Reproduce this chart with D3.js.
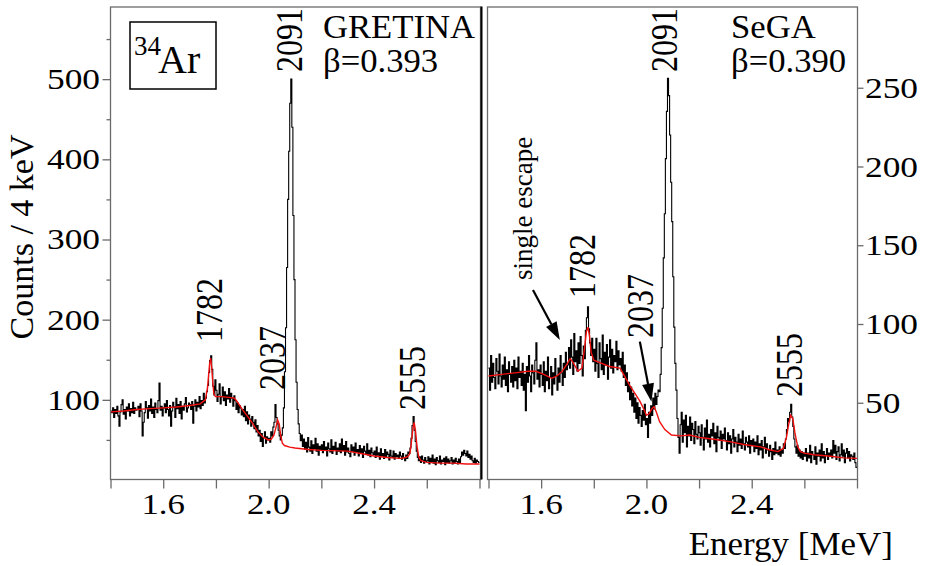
<!DOCTYPE html>
<html>
<head>
<meta charset="utf-8">
<script src="https://cdn.jsdelivr.net/npm/d3@7/dist/d3.min.js"></script>
<style>
  html, body { margin: 0; padding: 0; background: #fff; }
  text { font-family: "Liberation Serif", "Times New Roman", serif; fill: #000; }
</style>
</head>
<body>
<div id="chart"></div>
<script>
// histogram bins: 4 keV wide, first bin starts at 1.400 MeV
var binStart = 1.4;
var binWidth = 0.004;

// GRETINA spectrum, counts per 4 keV bin (one row = 100 keV)
var gretinaCounts = [
  86, 84, 90, 78, 88, 83, 92, 80, 67, 85, 94, 100, 82, 88, 76, 91, 86, 95, 80, 89, 84, 97, 83, 90, 87,
  88, 92, 79, 95, 86, 55, 72, 84, 98, 90, 77, 93, 86, 101, 83, 91, 78, 96, 88, 84, 99, 121, 87, 92, 80,
  90, 95, 84, 99, 88, 80, 93, 67, 86, 97, 91, 78, 102, 89, 94, 83, 98, 76, 92, 87, 95, 103, 85, 90, 96,
  94, 88, 98, 71, 92, 100, 86, 97, 91, 104, 89, 99, 93, 108, 96, 102, 110, 118, 134, 149, 155, 138, 117, 106, 125,
  112, 98, 107, 120, 95, 104, 116, 99, 110, 93, 106, 101, 114, 97, 108, 102, 92, 105, 99, 88, 96, 84, 93, 90, 81,
  88, 79, 92, 74, 85, 70, 81, 76, 67, 79, 72, 64, 75, 60, 68, 55, 62, 48, 58, 42, 53, 60, 46, 54, 50,
  52, 47, 60, 55, 66, 72, 94, 78, 70, 62, 55, 50, 56, 65, 90, 135, 190, 265, 350, 410, 470, 500, 440, 330, 250,
  175, 122, 88, 70, 58, 49, 56, 42, 51, 38, 47, 35, 53, 41, 36, 49, 33, 44, 39, 52, 36, 45, 31, 42, 38,
  44, 34, 48, 37, 41, 30, 46, 39, 35, 50, 33, 42, 38, 47, 32, 40, 36, 45, 34, 51, 37, 43, 31, 48, 35,
  40, 33, 29, 44, 36, 41, 31, 46, 35, 38, 30, 43, 34, 39, 28, 42, 36, 33, 45, 31, 37, 29, 40, 34, 32,
  36, 28, 41, 31, 34, 26, 39, 30, 33, 27, 38, 29, 35, 32, 25, 37, 30, 28, 36, 26, 33, 29, 31, 27, 35,
  30, 26, 33, 28, 24, 31, 27, 35, 33, 40, 52, 68, 79, 62, 48, 36, 28, 24, 29, 22, 30, 25, 21, 28, 23,
  24, 29, 20, 27, 23, 31, 21, 26, 19, 28, 24, 22, 30, 20, 25, 23, 27, 19, 29, 22, 26, 21, 24, 28, 20,
  25, 21, 27, 23, 20, 26, 22, 29, 35, 31, 37, 33, 30, 36, 28, 32, 26, 30, 24, 22, 27, 21, 25, 23, 22
];

// SeGA spectrum, counts per 4 keV bin
var segaCounts = [
  72, 58, 80, 63, 75, 66, 59, 78, 70, 62, 81, 67, 60, 74, 65, 79, 61, 71, 57, 76, 68, 63, 73, 60, 77,
  64, 72, 59, 79, 66, 70, 61, 75, 58, 68, 45, 73, 63, 80, 67, 57, 74, 69, 62, 77, 88, 65, 71, 60, 74,
  68, 61, 76, 57, 70, 64, 79, 59, 66, 73, 55, 69, 62, 78, 67, 58, 72, 63, 80, 69, 61, 75, 66, 82, 71,
  74, 85, 72, 90, 79, 68, 94, 76, 83, 70, 88, 75, 92, 80, 67, 86, 78, 96, 104, 111, 97, 88, 80, 91, 76,
  84, 70, 91, 75, 66, 88, 78, 71, 93, 68, 82, 74, 87, 65, 79, 90, 72, 84, 69, 80, 76, 89, 71, 83, 74,
  78, 70, 82, 66, 74, 61, 69, 57, 63, 52, 60, 48, 56, 44, 53, 40, 50, 37, 47, 42, 35, 45, 39, 49, 36,
  40, 28, 44, 37, 48, 42, 53, 46, 56, 49, 54, 58, 57, 68, 85, 110, 142, 170, 205, 235, 256, 245, 220, 190, 165,
  130, 98, 75, 58, 40, 28, 18, 36, 44, 25, 39, 31, 42, 22, 35, 29, 41, 26, 37, 33, 24, 38, 30, 27, 35,
  31, 23, 36, 28, 20, 34, 27, 39, 25, 30, 22, 33, 29, 37, 24, 31, 19, 35, 28, 26, 32, 21, 30, 27, 34,
  26, 20, 31, 24, 29, 18, 27, 33, 22, 28, 25, 19, 30, 23, 27, 21, 32, 24, 20, 28, 25, 22, 29, 18, 26,
  23, 27, 19, 25, 21, 29, 17, 24, 20, 26, 15, 22, 28, 18, 24, 20, 16, 23, 19, 14, 21, 17, 25, 18, 20,
  17, 22, 16, 20, 18, 24, 21, 27, 33, 40, 38, 44, 49, 41, 35, 27, 22, 18, 23, 16, 20, 15, 19, 14, 18,
  16, 21, 13, 18, 15, 23, 12, 19, 17, 14, 22, 11, 18, 16, 20, 13, 24, 15, 19, 12, 17, 21, 14, 18, 16,
  20, 15, 26, 18, 23, 14, 19, 22, 13, 17, 24, 16, 20, 12, 18, 21, 15, 19, 13, 17, 16, 14, 18, 12, 9
];

// simulated fits (red): energy [MeV] and counts
var gretinaFitEnergy = [1.40, 1.45, 1.50, 1.55, 1.60, 1.65, 1.70, 1.74, 1.76, 1.768, 1.772, 1.776, 1.780, 1.784, 1.788, 1.792, 1.798,
  1.82, 1.85, 1.87, 1.88, 1.90, 1.93, 1.96, 1.98, 2.00, 2.01, 2.02, 2.028, 2.034, 2.040, 2.046, 2.052, 2.06, 2.08, 2.10,
  2.15, 2.20, 2.30, 2.35, 2.40, 2.45, 2.50, 2.52, 2.53, 2.536, 2.542, 2.548, 2.552, 2.557, 2.563, 2.57, 2.578, 2.60,
  2.65, 2.70, 2.75, 2.80];
var gretinaFitCounts = [85, 86, 88, 89, 90, 91, 93, 95, 100, 115, 130, 145, 152, 140, 122, 108, 104,
  104, 103, 102, 98, 88, 75, 60, 53, 50, 51, 56, 66, 75, 70, 55, 46, 43, 41, 40,
  38, 37, 36, 33, 30, 28, 27, 28, 30, 33, 48, 66, 72, 62, 42, 28, 24, 22,
  21, 21, 20, 20];

var segaFitEnergy = [1.40, 1.45, 1.50, 1.55, 1.58, 1.61, 1.64, 1.66, 1.68, 1.70, 1.71, 1.72, 1.74, 1.755, 1.765, 1.772, 1.778,
  1.784, 1.79, 1.80, 1.83, 1.86, 1.90, 1.92, 1.94, 1.96, 1.975, 1.99, 2.00, 2.01, 2.02, 2.029, 2.038, 2.05, 2.07, 2.095,
  2.13, 2.164, 2.20, 2.22, 2.27, 2.316, 2.37, 2.434, 2.47, 2.50, 2.52, 2.532, 2.54, 2.548, 2.556, 2.565, 2.575, 2.585,
  2.60, 2.637, 2.70, 2.75, 2.80];
var segaFitCounts = [67, 68, 69, 70, 70, 68, 65.5, 67, 70, 75, 78, 76, 70, 72, 85, 95, 98,
  92, 82, 77, 75, 73, 72, 66, 60, 55, 51, 46, 42, 43, 46, 47.5, 44, 38, 33, 29.5,
  29, 29.5, 28, 27.6, 26.5, 25.3, 23.5, 22, 20, 19, 21, 28, 36, 42, 40, 30, 22, 19,
  18, 17, 16, 15, 14.7];

// axis ticks
var energyTicks = [1.4, 1.6, 1.8, 2.0, 2.2, 2.4, 2.6, 2.8];
var energyLabels = [1.6, 2.0, 2.4];
var gretinaTicks = [100, 200, 300, 400, 500];
var gretinaMinorTicks = [50, 150, 250, 350, 450, 550];
var segaTicks = [50, 100, 150, 200, 250];

// peak labels [keV]
var gretinaPeaks = ["1782", "2037", "2091", "2555"];
var segaPeaks = ["1782", "2037", "2091", "2555"];

var width = 925, height = 566;
var axisColor = "#6a6a6a";
var serif = "'Liberation Serif', 'Times New Roman', serif";

var svg = d3.select("#chart")
    .append("svg")
    .attr("width", width)
    .attr("height", height);

// scales
var xLeft = d3.scaleLinear().domain([1.4, 2.8]).range([110.5, 479.5]);
var yLeft = d3.scaleLinear().domain([0, 590]).range([480, 7]);
var xRight = d3.scaleLinear().domain([1.4, 2.8]).range([488.5, 857]);
var yRight = d3.scaleLinear().domain([0, 300]).range([481.5, 9]);

// stretched text helper (the original figure is a bit wider than tall)
function label(g, str, x, y, size, sx, anchor, rotate) {
    return g.append("text")
        .attr("transform", "translate(" + x + "," + y + ") scale(" + sx + ",1)" + (rotate ? " rotate(-90)" : ""))
        .attr("text-anchor", anchor)
        .attr("font-family", serif)
        .style("font-family", serif)
        .style("font-size", size + "px")
        .text(str);
}

function drawPanel(counts, fitE, fitC, x, y, frame) {
    var pts = counts.map(function(c, i) { return [binStart + i * binWidth, c]; });
    pts.push([binStart + counts.length * binWidth, counts[counts.length - 1]]);

    var hist = d3.line()
        .x(d => x(d[0]))
        .y(d => y(d[1]))
        .curve(d3.curveStepAfter);

    svg.append("path")
        .datum(pts)
        .attr("d", hist)
        .attr("fill", "none")
        .attr("stroke", "#000")
        .attr("stroke-width", 1.1);

    var fit = d3.line()
        .x(d => x(d[0]))
        .y(d => y(d[1]));

    svg.append("path")
        .datum(fitE.map((e, i) => [e, fitC[i]]))
        .attr("d", fit)
        .attr("fill", "none")
        .attr("stroke", "#f01010")
        .attr("stroke-width", 1.4);

    // frame
    svg.append("rect")
        .attr("x", frame[0])
        .attr("y", 7)
        .attr("width", frame[1] - frame[0])
        .attr("height", 472.5)
        .attr("fill", "none")
        .attr("stroke", axisColor)
        .attr("stroke-width", 1.3);

    // bottom axis
    var xa = svg.append("g")
        .attr("transform", "translate(0,479.5)")
        .call(d3.axisBottom(x).tickValues(energyTicks).tickSize(9).tickFormat(""));
    xa.select(".domain").remove();
    xa.selectAll("line").attr("stroke", axisColor).attr("stroke-width", 1.3);

    energyLabels.forEach(function(v) {
        label(svg, v.toFixed(1), x(v), 514, 29, 1.2, "middle");
    });
}

drawPanel(gretinaCounts, gretinaFitEnergy, gretinaFitCounts, xLeft, yLeft, [110.5, 480.5]);
drawPanel(segaCounts, segaFitEnergy, segaFitCounts, xRight, yRight, [487.5, 857.5]);

// dark separator line between the panels
svg.append("line")
    .attr("x1", 481.5).attr("x2", 481.5)
    .attr("y1", 6.5).attr("y2", 479.5)
    .attr("stroke", "#000")
    .attr("stroke-width", 2);

// left y axis
var ya = svg.append("g")
    .attr("transform", "translate(110.5,0)")
    .call(d3.axisLeft(yLeft).tickValues(gretinaTicks).tickSize(8).tickFormat(""));
ya.select(".domain").remove();
var yam = svg.append("g")
    .attr("transform", "translate(110.5,0)")
    .call(d3.axisLeft(yLeft).tickValues(gretinaMinorTicks).tickSize(4).tickFormat(""));
yam.select(".domain").remove();
svg.selectAll("g line").attr("stroke", axisColor).attr("stroke-width", 1.3);

gretinaTicks.forEach(function(v) {
    label(svg, v, 100, yLeft(v) + 10, 29, 1.22, "end");
});

// right y axis
var yr = svg.append("g")
    .attr("transform", "translate(857.5,0)")
    .call(d3.axisRight(yRight).tickValues(segaTicks).tickSize(6).tickFormat(""));
yr.select(".domain").remove();
yr.selectAll("line").attr("stroke", axisColor).attr("stroke-width", 1.3);

segaTicks.forEach(function(v) {
    label(svg, v, 865, yRight(v) + 10, 29, 1.22, "start");
});

// axis titles
label(svg, "Counts / 4 keV", 33, 237, 34, 1, "middle", true);
label(svg, "Energy [MeV]", 893, 555, 33, 1.06, "end");

// detector names
label(svg, "GRETINA", 323, 38, 33, 1.05, "start");
label(svg, "β=0.393", 323, 72, 33, 1.05, "start");
label(svg, "SeGA", 731, 38, 33, 1.05, "start");
label(svg, "β=0.390", 731, 72, 33, 1.05, "start");

// 34Ar box
svg.append("rect")
    .attr("x", 130).attr("y", 22)
    .attr("width", 86).attr("height", 67)
    .attr("fill", "none")
    .attr("stroke", "#000")
    .attr("stroke-width", 1.5);
label(svg, "34", 134, 55, 27, 1, "start");
label(svg, "Ar", 158, 73, 40, 1, "start");

// peak labels (rotated)
var leftPos = [[221.5, 342], [285, 390], [301.5, 72], [425, 410]];
gretinaPeaks.forEach(function(p, i) {
    label(svg, p, leftPos[i][0], leftPos[i][1], 32, 1.16, "start", true);
});
var rightPos = [[595, 298], [653, 338], [676.5, 72], [801.5, 397]];
segaPeaks.forEach(function(p, i) {
    label(svg, p, rightPos[i][0], rightPos[i][1], 32, 1.16, "start", true);
});
label(svg, "single escape", 532, 280, 27, 1, "start", true);

// arrows
function arrow(x1, y1, x2, y2) {
    var dx = x2 - x1, dy = y2 - y1, len = Math.sqrt(dx * dx + dy * dy);
    var ux = dx / len, uy = dy / len, hl = 18, hw = 6;
    var bx = x2 - ux * hl, by = y2 - uy * hl;
    svg.append("line")
        .attr("x1", x1).attr("y1", y1).attr("x2", bx).attr("y2", by)
        .attr("stroke", "#000").attr("stroke-width", 2.2);
    svg.append("path")
        .attr("d", "M" + x2 + "," + y2 + "L" + (bx - uy * hw) + "," + (by + ux * hw) + "L" + (bx + uy * hw) + "," + (by - ux * hw) + "Z")
        .attr("fill", "#000");
}
arrow(xRight(1.569), yRight(121.6), xRight(1.671), yRight(89.8));
arrow(xRight(1.975), yRight(88.8), xRight(2.019), yRight(50.7));
</script>
</body>
</html>
